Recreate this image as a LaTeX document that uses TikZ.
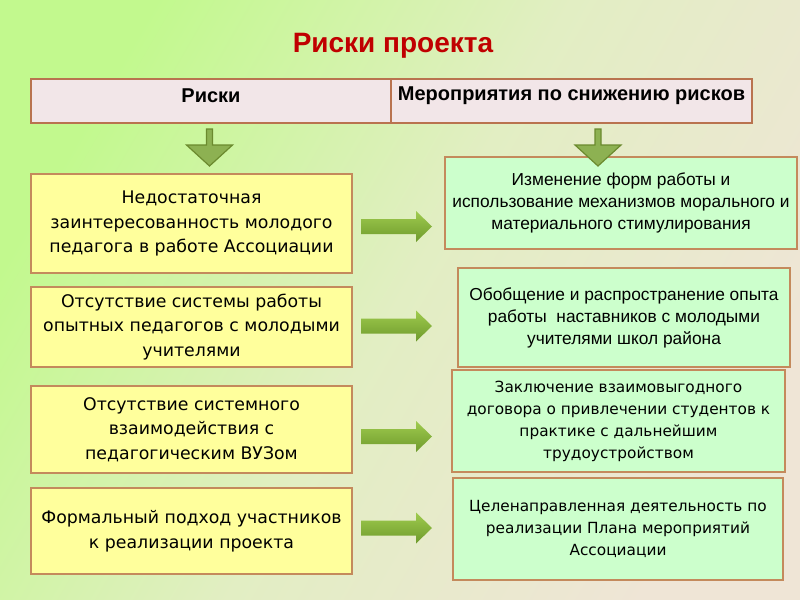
\documentclass[tikz,border=0pt]{standalone}
\usepackage{fontspec}
\setmainfont{Liberation Sans}
\newfontfamily\tah{DejaVu Sans}
\usetikzlibrary{shadows,calc}
\definecolor{bgUL}{HTML}{C2F98E}
\definecolor{bgMid}{HTML}{E2EEC3}
\definecolor{bgLR}{HTML}{EFE5D6}
\definecolor{titlered}{HTML}{C00000}
\definecolor{hdrfill}{HTML}{F2E6E8}
\definecolor{hdrline}{HTML}{B9734F}
\definecolor{yelfill}{HTML}{FFFF9C}
\definecolor{grnfill}{HTML}{CCFFCC}
\definecolor{boxline}{HTML}{C48A5C}
\definecolor{arrtop}{HTML}{9FCB4E}
\definecolor{arrbot}{HTML}{6E9A2C}
\definecolor{darrfill}{HTML}{8DB152}
\definecolor{darrline}{HTML}{6B8A2E}
\tikzset{
  riskbox/.style={draw=boxline, line width=1.1pt, fill=yelfill, align=center,
     font=\tah\fontsize{13}{18.5}\selectfont,
     drop shadow={shadow xshift=0.8pt, shadow yshift=-0.8pt, opacity=0.3}},
  measbox/.style={draw=boxline, line width=1.1pt, fill=grnfill, align=center,
     drop shadow={shadow xshift=0.8pt, shadow yshift=-0.8pt, opacity=0.3}},
  arialtxt/.style={font=\fontsize{13}{16.5}\selectfont},
  tahtxt/.style={font=\tah\fontsize{11.5}{16.5}\selectfont},
  hdrcell/.style={draw=hdrline, line width=0.9pt, fill=hdrfill, minimum height=33pt, inner sep=0pt},
  hdrtxt/.style={font=\bfseries\fontsize{15}{17}\selectfont},
  rarrow/.pic={\shade[top color=arrtop, bottom color=arrbot]
      (0,-7.5) -- (55,-7.5) -- (55,-15.5) -- (71,0) -- (55,15.5) -- (55,7.5) -- (0,7.5) -- cycle;},
  darrow/.pic={\filldraw[fill=darrfill, draw=darrline, line width=0.9pt, line join=miter]
      (-3,0) -- (3,0) -- (3,16) -- (23,16) -- (0,37) -- (-23,16) -- (-3,16) -- cycle;}
}
\begin{document}
\begin{tikzpicture}[x=0.75pt,y=-0.75pt]
\useasboundingbox (0,0) rectangle (800,600);
\shade[left color=bgUL, right color=bgLR, middle color=bgMid, shading angle=60] (0,0) rectangle (800,600);

\node[font=\bfseries\fontsize{21}{25}\selectfont, text=titlered] (title) at (393,46) {Риски проекта};

\node[hdrcell, minimum width=270pt] (hL) at (211,101) {};
\node[hdrcell, minimum width=270.75pt] (hR) at (571.5,101) {};
\node[hdrtxt] (hLt) at (211,96) {Риски};
\node[hdrtxt] (hRt) at (571.5,96) {Мероприятия по снижению рисков};

\node[riskbox, minimum width=240.75pt, minimum height=74.25pt] (r1) at (191.5,223.5)
  {Недостаточная\\заинтересованность молодого\\педагога в работе Ассоциации};
\node[riskbox, minimum width=240.75pt, minimum height=60pt] (r2) at (191.5,327)
  {Отсутствие системы работы\\опытных педагогов с молодыми\\учителями};
\node[riskbox, minimum width=240.75pt, minimum height=65.25pt] (r3) at (191.5,429.5)
  {Отсутствие системного\\взаимодействия с\\педагогическим ВУЗом};
\node[riskbox, minimum width=240.75pt, minimum height=64.5pt] (r4) at (191.5,531)
  {Формальный подход участников\\к реализации проекта};

\node[measbox, arialtxt, minimum width=264pt, minimum height=69pt] (m1) at (621,203)
  {Изменение форм работы и\\использование механизмов морального и\\материального стимулирования};
\node[measbox, arialtxt, minimum width=249pt, minimum height=74.25pt] (m2) at (624,317.5)
  {Обобщение и распространение опыта\\работы\ \ наставников с молодыми\\учителями школ района};
\node[measbox, tahtxt, minimum width=249.75pt, minimum height=76.5pt] (m3) at (618.5,421)
  {Заключение взаимовыгодного\\договора о привлечении студентов к\\практике с дальнейшим\\трудоустройством};
\node[measbox, tahtxt, minimum width=247.5pt, minimum height=76.5pt] (m4) at (618,529)
  {Целенаправленная деятельность по\\реализации Плана мероприятий\\Ассоциации};

\pic at (209.5,129) {darrow};
\pic at (598,129) {darrow};

\pic at (361,226.5) {rarrow};
\pic at (361,326) {rarrow};
\pic at (361,436.5) {rarrow};
\pic at (361,528) {rarrow};
\end{tikzpicture}
\end{document}
